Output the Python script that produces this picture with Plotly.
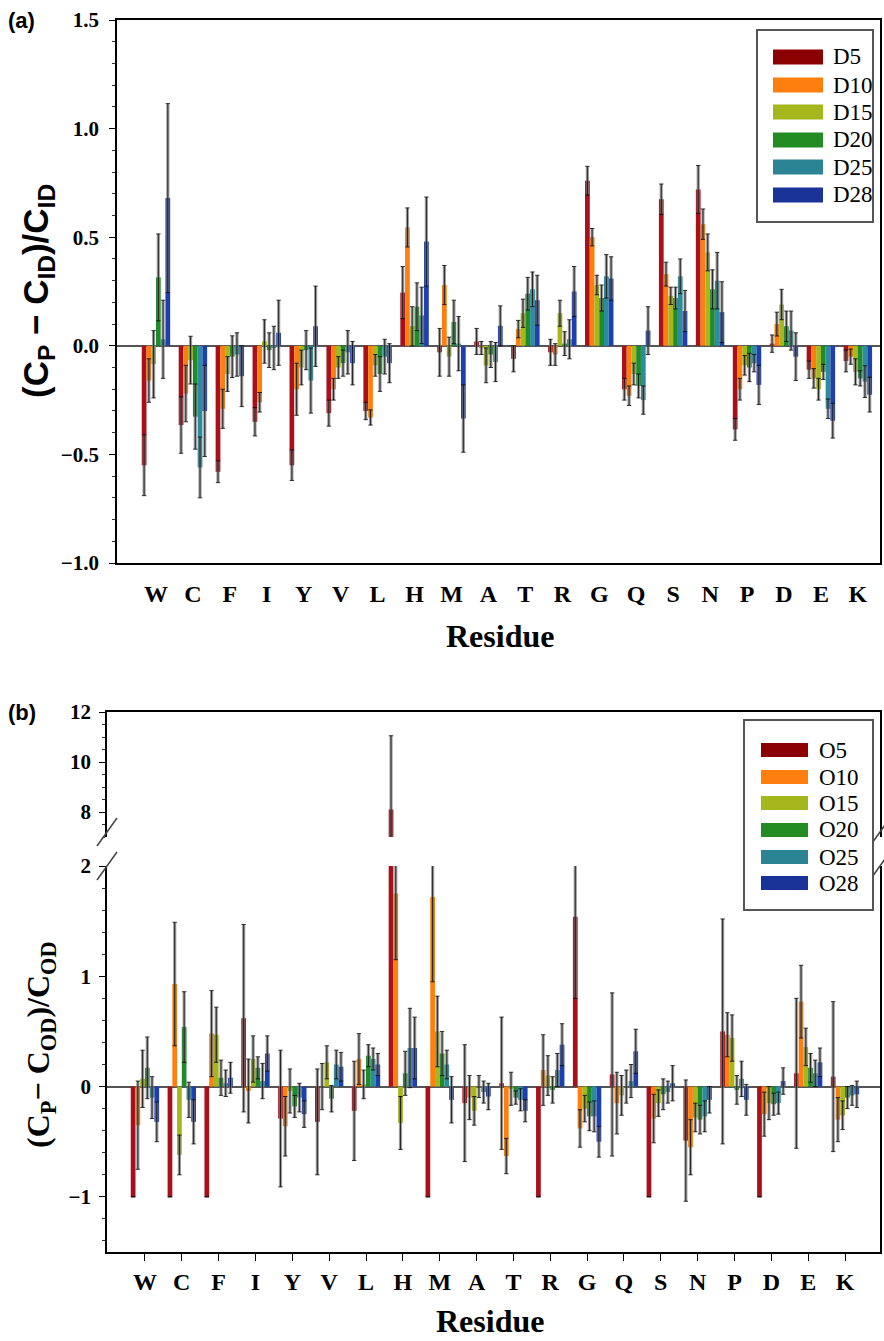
import plotly.graph_objects as go

W, H = 884, 1341

residues = ['W', 'C', 'F', 'I', 'Y', 'V', 'L', 'H', 'M', 'A',
            'T', 'R', 'G', 'Q', 'S', 'N', 'P', 'D', 'E', 'K']

series_a = ['D5', 'D10', 'D15', 'D20', 'D25', 'D28']
series_b = ['O5', 'O10', 'O15', 'O20', 'O25', 'O28']
colors = ['#a8101a', '#ff7f0e', '#a6b71d', '#1f8b2a', '#2b8c9c', '#1d3fb0']
legend_colors = ['#8b0000', '#ff7f0e', '#a6b71d', '#228b22', '#2b8494', '#1a3399']

# Panel (a): (Cp - CID)/CID
D5 = [-0.55, -0.365, -0.58, -0.35, -0.55, -0.31, -0.30, 0.245, -0.03, 0.02,
      -0.06, -0.03, 0.76, -0.20, 0.675, 0.72, -0.385, 0.01, -0.11, -0.07]
D5_err = [0.14, 0.13, 0.05, 0.065, 0.07, 0.06, 0.04, 0.12, 0.11, 0.06,
          0.06, 0.06, 0.066, 0.05, 0.07, 0.11, 0.05, 0.04, 0.04, 0.05]
D10 = [-0.16, -0.22, -0.29, -0.26, -0.20, -0.20, -0.33, 0.545, 0.28, -0.01,
       0.077, -0.04, 0.50, -0.23, 0.33, 0.56, -0.20, 0.10, -0.15, -0.05]
D10_err = [0.10, 0.13, 0.09, 0.045, 0.12, 0.05, 0.035, 0.09, 0.09, 0.03,
           0.04, 0.05, 0.04, 0.045, 0.055, 0.07, 0.05, 0.055, 0.045, 0.035]
D15 = [-0.085, -0.066, -0.13, 0.02, -0.10, -0.10, -0.09, 0.09, -0.05, -0.09,
       0.15, 0.15, 0.28, -0.13, 0.23, 0.43, -0.09, 0.19, -0.20, -0.12]
D15_err = [0.155, 0.11, 0.08, 0.10, 0.08, 0.05, 0.05, 0.09, 0.09, 0.08,
           0.065, 0.06, 0.045, 0.05, 0.04, 0.085, 0.045, 0.07, 0.05, 0.06]
D20 = [0.315, -0.326, -0.05, -0.02, -0.02, -0.08, -0.13, 0.18, 0.11, -0.04,
       0.24, 0.01, 0.22, -0.185, 0.22, 0.26, -0.10, 0.09, -0.12, -0.15]
D20_err = [0.20, 0.15, 0.096, 0.08, 0.09, 0.06, 0.08, 0.11, 0.10, 0.06,
           0.075, 0.055, 0.06, 0.055, 0.05, 0.09, 0.065, 0.07, 0.035, 0.035]
D25 = [0.03, -0.56, -0.04, -0.01, -0.16, -0.03, -0.05, 0.14, 0.01, -0.075,
       0.26, 0.03, 0.32, -0.25, 0.32, 0.30, -0.08, 0.07, -0.29, -0.165]
D25_err = [0.18, 0.14, 0.10, 0.10, 0.15, 0.10, 0.08, 0.13, 0.125, 0.09,
           0.08, 0.09, 0.10, 0.065, 0.08, 0.13, 0.04, 0.09, 0.045, 0.073]
D28 = [0.68, -0.30, -0.14, 0.06, 0.09, -0.08, -0.08, 0.48, -0.335, 0.092,
       0.21, 0.25, 0.31, 0.07, 0.16, 0.155, -0.18, -0.05, -0.345, -0.225]
D28_err = [0.435, 0.21, 0.14, 0.15, 0.185, 0.10, 0.09, 0.205, 0.155, 0.092,
           0.115, 0.115, 0.10, 0.11, 0.095, 0.14, 0.09, 0.11, 0.08, 0.08]

# Panel (b): (Cp - COD)/COD
O5 = [-1.0, -1.0, -1.0, 0.62, -0.29, -0.32, -0.22, 8.1, -1.0, -0.15,
      0.03, -1.0, 1.54, 0.11, -1.0, -0.49, 0.50, -1.0, 0.12, 0.09]
O5_err = [None, None, None, 0.85, 0.62, 0.48, 0.45, 2.95, None, 0.53,
          0.60, None, 0.74, 0.74, None, 0.55, 1.02, None, 0.68, 0.68]
O10 = [-0.35, 0.93, 0.48, -0.04, -0.36, 0.0, 0.25, 1.75, 1.72, -0.10,
       -0.63, 0.15, -0.38, -0.15, -0.29, -0.55, 0.47, -0.25, 0.77, -0.30]
O10_err = [0.40, 0.56, 0.39, 0.29, 0.27, 0.21, 0.23, 0.60, 0.77, 0.20,
           0.16, 0.32, 0.17, 0.28, 0.22, 0.25, 0.20, 0.20, 0.33, 0.20]
O15 = [0.07, -0.62, 0.47, 0.25, -0.04, 0.22, 0.02, -0.33, 0.50, -0.22,
       -0.02, 0.10, -0.20, -0.08, -0.15, -0.28, 0.44, -0.15, 0.36, -0.26]
O15_err = [0.26, 0.18, 0.25, 0.21, 0.20, 0.15, 0.13, 0.24, 0.32, 0.13,
           0.15, 0.18, 0.12, 0.18, 0.12, 0.13, 0.21, 0.15, 0.17, 0.13]
O20 = [0.17, 0.54, 0.08, 0.17, -0.18, -0.11, 0.28, 0.12, 0.30, 0.0,
       -0.10, -0.03, -0.27, 0.0, -0.07, -0.30, -0.03, -0.16, 0.17, -0.10]
O20_err = [0.28, 0.32, 0.16, 0.10, 0.10, 0.12, 0.10, 0.20, 0.20, 0.10,
           0.06, 0.12, 0.13, 0.15, 0.14, 0.13, 0.13, 0.10, 0.13, 0.10]
O25 = [-0.10, -0.12, 0.03, 0.05, -0.10, 0.20, 0.25, 0.35, 0.20, -0.05,
       -0.12, 0.15, -0.27, 0.05, -0.05, -0.27, 0.07, -0.15, 0.12, -0.08]
O25_err = [0.19, 0.16, 0.12, 0.16, 0.13, 0.13, 0.10, 0.36, 0.13, 0.10,
           0.10, 0.15, 0.14, 0.15, 0.10, 0.14, 0.16, 0.10, 0.12, 0.09]
O28 = [-0.32, -0.32, 0.08, 0.30, -0.25, 0.18, 0.20, 0.35, -0.12, -0.09,
       -0.22, 0.38, -0.50, 0.32, 0.03, -0.12, -0.12, 0.05, 0.22, -0.07]
O28_err = [0.18, 0.20, 0.14, 0.16, 0.12, 0.13, 0.10, 0.28, 0.21, 0.12,
           0.10, 0.19, 0.14, 0.20, 0.16, 0.12, 0.14, 0.12, 0.13, 0.12]

vals_a = [D5, D10, D15, D20, D25, D28]
errs_a = [D5_err, D10_err, D15_err, D20_err, D25_err, D28_err]
vals_b = [O5, O10, O15, O20, O25, O28]
errs_b = [O5_err, O10_err, O15_err, O20_err, O25_err, O28_err]


def px(x):
    return x / W


def py(y):
    return 1 - y / H


SERIF = 'Liberation Serif, Times New Roman, serif'
SANS = 'Liberation Sans, Arial, sans-serif'

fig = go.Figure()


def add_bars(names, vals, errs, xa, ya, tag):
    # coloured bars with a wide grey error band
    for name, v, e, c in zip(names, vals, errs, colors):
        fig.add_trace(go.Bar(
            x=residues, y=v, name=name, xaxis=xa, yaxis=ya,
            offsetgroup=tag + name,
            marker=dict(color=c, line=dict(width=0)),
            error_y=dict(type='data', array=e, visible=True,
                         color='rgba(120,120,120,0.72)', thickness=3.2, width=0),
            showlegend=False,
        ))
    # transparent twins (same offset group) carrying the thin black whisker + caps
    for name, v, e in zip(names, vals, errs):
        fig.add_trace(go.Bar(
            x=residues, y=v, name=name, xaxis=xa, yaxis=ya,
            offsetgroup=tag + name,
            marker=dict(color='rgba(0,0,0,0)', line=dict(width=0)),
            error_y=dict(type='data', array=e, visible=True,
                         color='rgba(0,0,0,0.85)', thickness=0.9, width=2.2),
            showlegend=False, hoverinfo='skip',
        ))


add_bars(series_a, vals_a, errs_a, 'x', 'y', 'a')
add_bars(series_b, vals_b, errs_b, 'x2', 'y2', 'b')
add_bars(series_b, vals_b, errs_b, 'x3', 'y3', 'c')

axis_common = dict(showgrid=False, linecolor='black', linewidth=1.5,
                   tickcolor='black', type='category', automargin=False,
                   categoryorder='array', categoryarray=residues)
yfont = dict(family=SERIF, size=21, color='black', weight='bold')
xfont = dict(family=SERIF, size=24, color='black', weight='bold')

fig.update_layout(
    width=W, height=H,
    margin=dict(l=0, r=0, t=0, b=0, autoexpand=False),
    paper_bgcolor='white', plot_bgcolor='white',
    barmode='group', bargap=0.23, bargroupgap=0.0,
    xaxis=dict(**axis_common, domain=[px(117), px(880)], anchor='y',
               range=[-1.055, 19.6], showline=True, mirror=True, ticks='',
               tickfont=xfont, ticklabelstandoff=8),
    yaxis=dict(domain=[py(563), py(20)], anchor='x', range=[-1.0, 1.5],
               automargin=False,
               dtick=0.5, tickformat='.1f', showgrid=False,
               showline=True, mirror=True, linecolor='black', linewidth=1.5,
               ticks='outside', ticklen=6, tickcolor='black',
               minor=dict(dtick=0.1, ticks='outside', ticklen=3, tickcolor='#333'),
               zeroline=True, zerolinecolor='#555', zerolinewidth=1.6,
               tickfont=yfont, ticklabelstandoff=6),
    xaxis2=dict(**axis_common, domain=[px(107), px(880)], anchor='y2',
                range=[-1.03, 19.95], showline=True, mirror=False,
                ticks='outside', ticklen=7,
                tickfont=xfont, ticklabelstandoff=0),
    yaxis2=dict(domain=[py(1252), py(866)], anchor='x2', range=[-1.5, 2.0],
                automargin=False,
                tickvals=[-1, 0, 1, 2], showgrid=False,
                showline=True, mirror=True, linecolor='black', linewidth=1.5,
                ticks='outside', ticklen=6, tickcolor='black',
                minor=dict(dtick=0.2, ticks='outside', ticklen=3, tickcolor='#333'),
                zeroline=True, zerolinecolor='#555', zerolinewidth=1.6,
                tickfont=yfont, ticklabelstandoff=4),
    xaxis3=dict(**axis_common, domain=[px(107), px(880)], anchor='y3',
                range=[-1.03, 19.95], showline=True, mirror=False, side='top',
                ticks='', showticklabels=False),
    yaxis3=dict(domain=[py(837), py(712)], anchor='x3', range=[7, 12],
                automargin=False,
                tickvals=[8, 10, 12], showgrid=False,
                showline=True, mirror=True, linecolor='black', linewidth=1.5,
                ticks='outside', ticklen=6, tickcolor='black',
                minor=dict(dtick=0.5, ticks='outside', ticklen=3, tickcolor='#333'),
                zeroline=False,
                tickfont=yfont, ticklabelstandoff=4),
)

shapes = []
annotations = []

# axis-break marks (panel b)
for xc in (107, 880):
    for yc in (832, 866):
        shapes.append(dict(type='line', xref='paper', yref='paper',
                           x0=px(xc - 10), y0=py(yc + 14),
                           x1=px(xc + 10), y1=py(yc - 14),
                           line=dict(color='#444', width=1.5)))


def legend(names, x0, x1, y0, y1, rows, sw_x0, sw_x1, sw_h, text_x, fsize):
    shapes.append(dict(type='rect', xref='paper', yref='paper',
                       x0=px(x0), x1=px(x1), y0=py(y1), y1=py(y0),
                       line=dict(color='#555', width=2), fillcolor='white'))
    for name, c, yc in zip(names, legend_colors, rows):
        shapes.append(dict(type='rect', xref='paper', yref='paper',
                           x0=px(sw_x0), x1=px(sw_x1),
                           y0=py(yc + sw_h / 2), y1=py(yc - sw_h / 2),
                           line=dict(width=0), fillcolor=c))
        annotations.append(dict(text=name, xref='paper', yref='paper',
                                x=px(text_x), y=py(yc), xanchor='left',
                                yanchor='middle', showarrow=False,
                                font=dict(family=SERIF, size=fsize, color='black')))


legend(series_a, 757, 873, 30, 222, [57, 85, 112, 140, 167, 195],
       773, 823, 15, 831, 23)
legend(series_b, 744, 873, 720, 910, [750, 777, 803, 830, 857, 883],
       761, 808, 14, 817, 23)

# panel labels and axis titles
annotations += [
    dict(text='<b>(a)</b>', x=px(6), y=py(20), xanchor='left', yanchor='middle',
         font=dict(family=SANS, size=22, color='black')),
    dict(text='<b>(b)</b>', x=px(6), y=py(712), xanchor='left', yanchor='middle',
         font=dict(family=SANS, size=22, color='black')),
    dict(text='<b>(C<sub>P</sub> − C<sub>ID</sub>)/C<sub>ID</sub></b>',
         x=px(38), y=py(291), textangle=-90, xanchor='center', yanchor='middle',
         font=dict(family=SANS, size=35, color='black')),
    dict(text='<b>(C<sub>P</sub>− C<sub>OD</sub>)/C<sub>OD</sub></b>',
         x=px(40), y=py(1045), textangle=-90, xanchor='center', yanchor='middle',
         font=dict(family=SERIF, size=32, color='black')),
    dict(text='<b>Residue</b>', x=px(500), y=py(636), xanchor='center',
         yanchor='middle', font=dict(family=SERIF, size=32, color='black')),
    dict(text='<b>Residue</b>', x=px(490), y=py(1321), xanchor='center',
         yanchor='middle', font=dict(family=SERIF, size=32, color='black')),
]
for a in annotations:
    a.setdefault('xref', 'paper')
    a.setdefault('yref', 'paper')
    a.setdefault('showarrow', False)

fig.update_layout(shapes=shapes, annotations=annotations)

fig.write_html('out.html',
               config={'displayModeBar': False},
               post_script="document.body.style.margin='0';"
                           "document.body.style.overflow='hidden';")
